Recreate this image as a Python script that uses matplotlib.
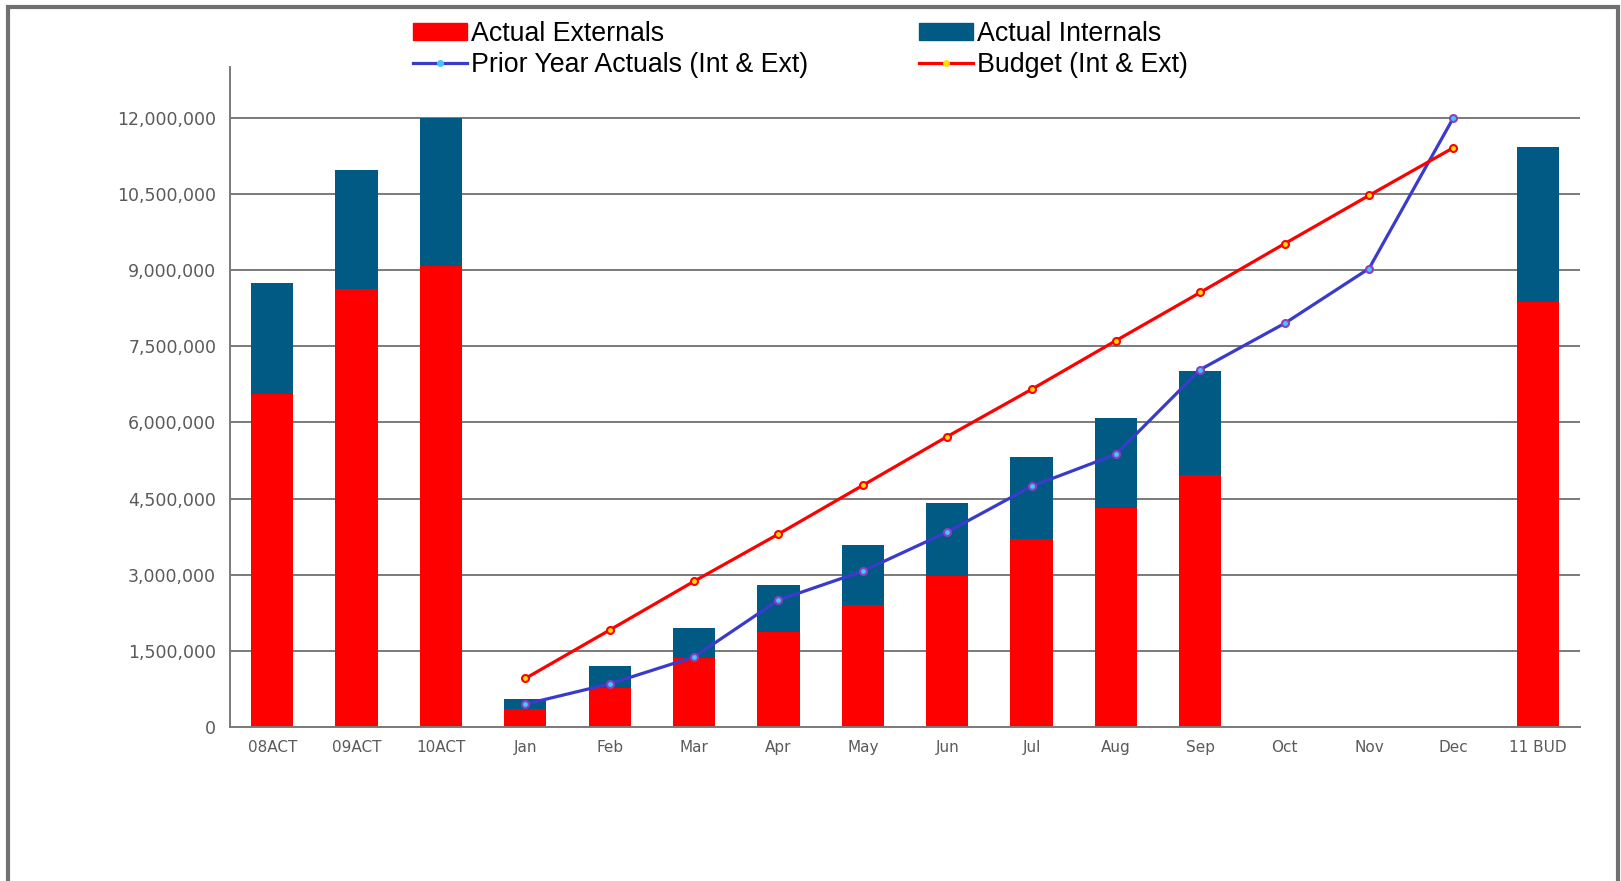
import matplotlib.pyplot as plt
from matplotlib.lines import Line2D
from matplotlib.patches import Patch, Rectangle
from matplotlib.ticker import FuncFormatter, MultipleLocator
import numpy as np

categories = ['08ACT', '09ACT', '10ACT', 'Jan', 'Feb', 'Mar', 'Apr', 'May', 'Jun',
              'Jul', 'Aug', 'Sep', 'Oct', 'Nov', 'Dec', '11 BUD']

# stacked bars: externals at the bottom, internals on top (nan = no bar)
externals = [6550000, 8620000, 9070000, 346000, 770000, 1360000, 1870000, 2400000,
             2970000, 3700000, 4310000, 4960000, np.nan, np.nan, np.nan, 8380000]
totals = [8750000, 10980000, 12000000, 550000, 1200000, 1950000, 2790000, 3580000,
          4410000, 5310000, 6080000, 7020000, np.nan, np.nan, np.nan, 11430000]

months = ['Jan', 'Feb', 'Mar', 'Apr', 'May', 'Jun', 'Jul', 'Aug', 'Sep', 'Oct', 'Nov', 'Dec']
prior_year = [450000, 850000, 1380000, 2500000, 3070000, 3840000, 4740000, 5370000,
              7040000, 7950000, 9030000, 12000000]
budget = [956000, 1910000, 2870000, 3800000, 4760000, 5720000, 6650000, 7610000,
          8560000, 9520000, 10470000, 11410000]

externals = np.array(externals, dtype=float)
internals = np.array(totals, dtype=float) - externals

RED = '#ff0000'
TEAL = '#015a84'
GREY = '#7a7a7a'

fig = plt.figure(figsize=(16.21, 8.81), dpi=100)
ax = fig.add_axes([0.1419, 0.1748, 0.8328, 0.7492])

x = np.arange(len(categories))
ax.bar(x, externals, width=0.5, color=RED, zorder=2)
ax.bar(x, internals, width=0.5, bottom=externals, color=TEAL, zorder=2)

mx = [categories.index(m) for m in months]
ax.plot(mx, prior_year, color='#3a3acc', lw=2.3, zorder=3,
        marker='o', ms=5, mfc='#40c8ff', mec='#8a40c0', mew=1.5)
ax.plot(mx, budget, color=RED, lw=2.3, zorder=3,
        marker='o', ms=5, mfc='#ffe000', mec=RED, mew=1.5)

ax.set_xlim(-0.5, 15.5)
ax.set_ylim(0, 13000000)
ax.yaxis.set_major_locator(MultipleLocator(1500000))
ax.yaxis.set_major_formatter(FuncFormatter(lambda v, p: f'{v:,.0f}'))
ax.set_xticks(x)
ax.set_xticklabels(categories)
ax.grid(axis='y', color=GREY, lw=1.4, zorder=1)
ax.tick_params(axis='both', length=0, colors='#5a5a5a')
ax.tick_params(axis='y', labelsize=12.5, pad=10)
ax.tick_params(axis='x', labelsize=11, pad=9)
for s in ['top', 'right']:
    ax.spines[s].set_visible(False)
for s in ['left', 'bottom']:
    ax.spines[s].set_color(GREY)
    ax.spines[s].set_linewidth(1.4)

handles = [Patch(color=RED),
           Line2D([], [], color='#3a3acc', lw=2.3, marker='o', ms=4,
                  mfc='#40c8ff', mec='#40c8ff'),
           Patch(color=TEAL),
           Line2D([], [], color=RED, lw=2.3, marker='o', ms=4,
                  mfc='#ffe000', mec='#ffe000')]
labels = ['Actual Externals', 'Prior Year Actuals (Int & Ext)',
          'Actual Internals', 'Budget (Int & Ext)']
fig.legend(handles, labels, ncol=2, loc='upper left', bbox_to_anchor=(0.2418, 1.001),
           frameon=False, prop={'family': 'Liberation Sans', 'size': 19.3},
           handlelength=2.0, handleheight=0.6, handletextpad=0.15,
           columnspacing=4.15, labelspacing=0.2, borderaxespad=0.4)

# outer frame of the chart area (open at the bottom)
fig.patches.append(Rectangle((8 / 1621, -0.1), 1610 / 1621, 1.1 - 7 / 881,
                             transform=fig.transFigure, fill=False,
                             ec='#707070', lw=3))

fig.savefig('out.png', dpi=100)
